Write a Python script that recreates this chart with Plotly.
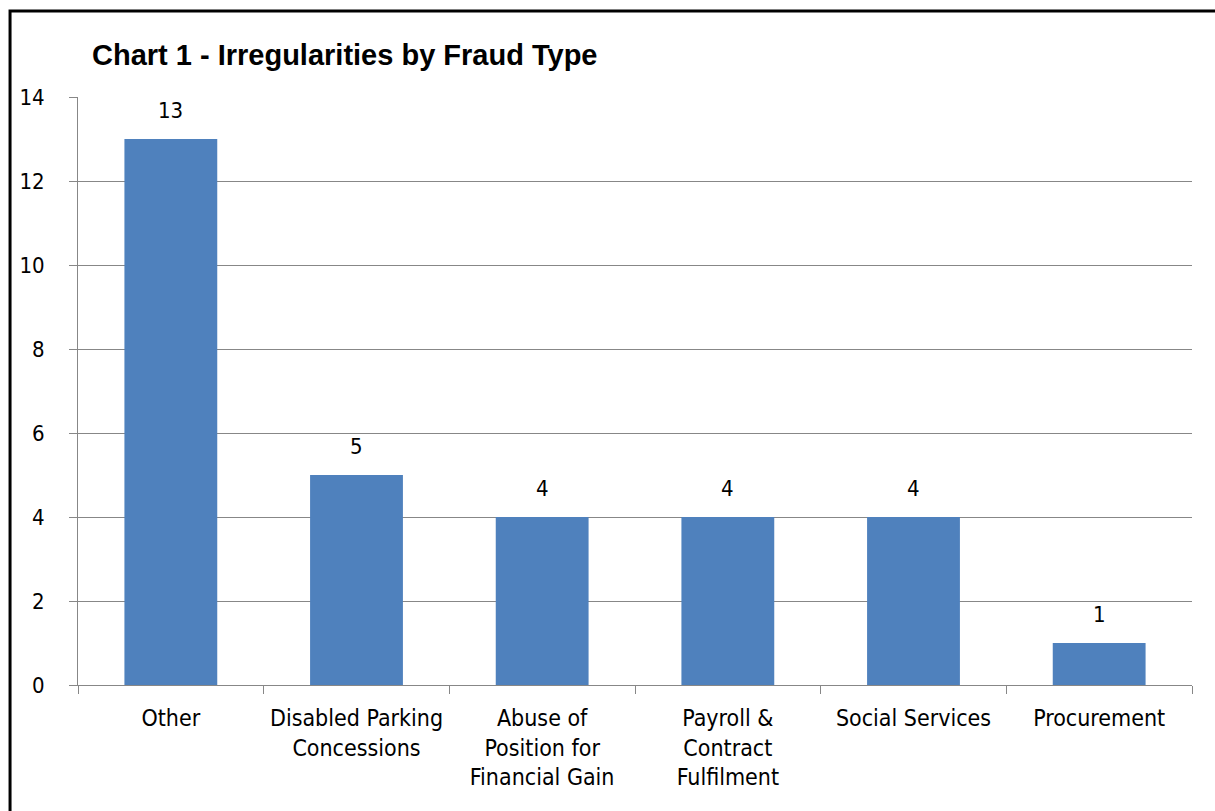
import plotly.graph_objects as go

# Irregularities recorded per fraud type
categories = [
    "Other",
    "Disabled Parking<br>Concessions",
    "Abuse of<br>Position for<br>Financial Gain",
    "Payroll &<br>Contract<br>Fulfilment",
    "Social Services",
    "Procurement",
]
counts = [13, 5, 4, 4, 4, 1]
y_ticks = [0, 2, 4, 6, 8, 10, 12, 14]

BAR_BLUE = "#4F81BD"
GRID_GREY = "#878787"
LABEL_FONT = "Liberation Sans Narrow, DejaVu Sans Condensed, Arial Narrow, sans-serif"

fig = go.Figure(
    go.Bar(
        x=categories,
        y=counts,
        width=0.5,
        marker=dict(color=BAR_BLUE, line=dict(width=0)),
        hoverinfo="x+y",
    )
)

# Value labels sitting above each bar
for cat, val in zip(categories, counts):
    fig.add_annotation(
        x=cat,
        y=val,
        text=str(val),
        showarrow=False,
        yanchor="middle",
        yshift=29,
        font=dict(family=LABEL_FONT, size=22, color="#000000"),
    )

fig.update_layout(
    width=1215,
    height=811,
    margin=dict(l=78, r=23, t=97, b=126, autoexpand=False),
    paper_bgcolor="#FFFFFF",
    plot_bgcolor="#FFFFFF",
    showlegend=False,
    bargap=0.5,
    font=dict(family=LABEL_FONT, size=22, color="#000000"),
    title=dict(
        text="<b>Chart 1 - Irregularities by Fraud Type</b>",
        font=dict(family="Liberation Sans, Arial, sans-serif", size=29, color="#000000"),
        x=92 / 1215,
        xanchor="left",
        y=1 - 55 / 811,
        yanchor="middle",
    ),
    xaxis=dict(
        type="category",
        automargin=False,
        tickangle=0,
        showgrid=False,
        showline=True,
        linecolor=GRID_GREY,
        linewidth=1,
        ticks="outside",
        tickson="boundaries",
        ticklen=8,
        tickcolor=GRID_GREY,
        tickfont=dict(family=LABEL_FONT, size=23, color="#000000"),
        ticklabelstandoff=12,
    ),
    yaxis=dict(
        automargin=False,
        range=[0, 14],
        tickvals=y_ticks,
        showgrid=True,
        gridcolor=GRID_GREY,
        gridwidth=1,
        showline=True,
        linecolor=GRID_GREY,
        linewidth=1,
        ticks="outside",
        ticklen=8,
        tickcolor=GRID_GREY,
        tickfont=dict(family=LABEL_FONT, size=22, color="#000000"),
        ticklabelstandoff=20,
        zeroline=False,
    ),
)

# Black frame along the top and left edges of the chart
fig.add_shape(
    type="path",
    xref="paper",
    yref="paper",
    path="M -0.0610 -1 L -0.0610 1.1463 L 2 1.1463",
    line=dict(color="#000000", width=3),
    layer="above",
)

fig.write_html("out.html")
